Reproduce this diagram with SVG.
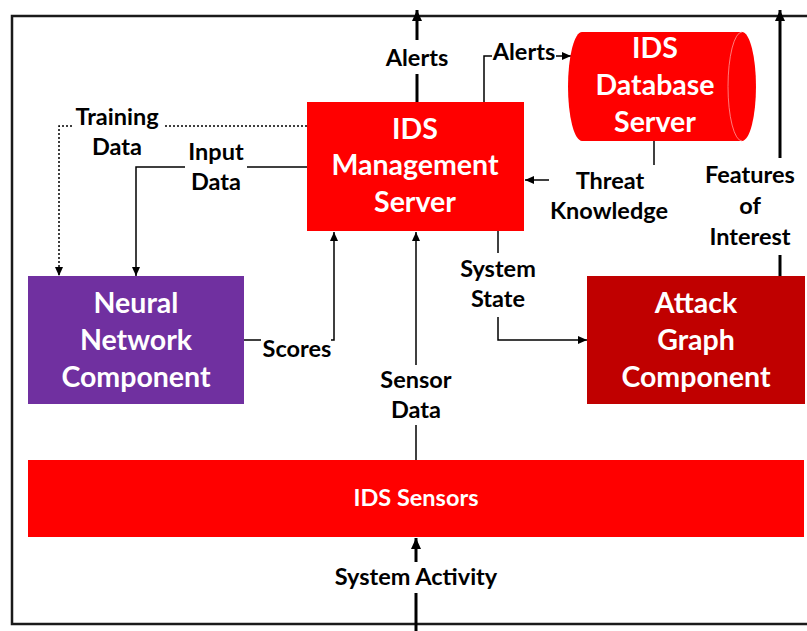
<svg xmlns="http://www.w3.org/2000/svg" width="807" height="631" viewBox="0 0 807 631">
<style>
.frame{fill:none;stroke:#1a1a1a;stroke-width:2.5}
.box{stroke:none}
.bt{font-family:Lato,"Liberation Sans",sans-serif;font-weight:bold;font-size:28.5px;fill:#fff;text-anchor:middle}
.st{font-family:Lato,"Liberation Sans",sans-serif;font-weight:bold;font-size:23.5px;fill:#fff;text-anchor:middle}
.lb{font-family:Lato,"Liberation Sans",sans-serif;font-weight:bold;font-size:23.5px;fill:#000;text-anchor:middle}
.thin{fill:none;stroke:#000;stroke-width:1.5}
.thick{fill:none;stroke:#000;stroke-width:3}
.dot{fill:none;stroke:#000;stroke-width:1.5;stroke-dasharray:2 2}
</style>
<defs>
<marker id="ah" markerUnits="userSpaceOnUse" markerWidth="12" markerHeight="10" refX="11" refY="5" orient="auto">
<path d="M0,0 L11,5 L0,10 Z" fill="#000"/>
</marker>
<marker id="ahs" markerUnits="userSpaceOnUse" markerWidth="10" markerHeight="8" refX="9" refY="4" orient="auto">
<path d="M0,0 L9,4 L0,8 Z" fill="#000"/>
</marker>
</defs>
<rect width="807" height="631" fill="#fff"/>
<rect class="frame" x="12" y="16" width="810" height="608"/>

<g id="connectors">
<path class="thick" d="M417,102 V74"/>
<path class="thick" d="M417,40 V10" marker-end="url(#ah)"/>
<path class="thick" d="M780,276 V255"/>
<path class="thick" d="M780,158 V10" marker-end="url(#ah)"/>
<path class="thick" d="M416,631 V593"/>
<path class="thick" d="M416,562 V538" marker-end="url(#ah)"/>
<path class="thin" d="M416,460 V425"/>
<path class="thin" d="M416,365 V232" marker-end="url(#ahs)"/>
<path class="thin" d="M244,340 H261"/>
<path class="thin" d="M331,340 H334 V232" marker-end="url(#ahs)"/>
<path class="thin" d="M498,231 V253"/>
<path class="thin" d="M498,317 V340 H587" marker-end="url(#ahs)"/>
<path class="thin" d="M654,141 V165"/>
<path class="thin" d="M549,180 H525" marker-end="url(#ahs)"/>
<path class="thin" d="M484,102 V56 H492"/>
<path class="thin" d="M556,56 H571" marker-end="url(#ahs)"/>
<path class="dot" d="M307,126 H163"/>
<path class="dot" d="M72,126 H59 V276" marker-end="url(#ahs)"/>
<path class="thin" d="M307,167 H247"/>
<path class="thin" d="M185,167 H136 V276" marker-end="url(#ahs)"/>
</g>

<g id="labels">
<text class="lb" x="417" y="66">Alerts</text>
<text class="lb" x="524" y="60">Alerts</text>
<text class="lb" x="117" y="125">Training</text>
<text class="lb" x="117" y="155">Data</text>
<text class="lb" x="216" y="160">Input</text>
<text class="lb" x="216" y="190">Data</text>
<text class="lb" x="610" y="189">Threat</text>
<text class="lb" x="609" y="219">Knowledge</text>
<text class="lb" x="750" y="183">Features</text>
<text class="lb" x="750" y="214">of</text>
<text class="lb" x="750" y="245">Interest</text>
<text class="lb" x="498" y="277">System</text>
<text class="lb" x="498" y="307">State</text>
<text class="lb" x="297" y="357">Scores</text>
<text class="lb" x="416" y="388">Sensor</text>
<text class="lb" x="416" y="418">Data</text>
<text class="lb" x="416" y="585">System Activity</text>
</g>

<g id="mgmt">
<rect class="box" x="307" y="102" width="217" height="129" fill="#ff0000"/>
<text class="bt" x="415" y="139">IDS</text>
<text class="bt" x="415" y="175">Management</text>
<text class="bt" x="415" y="212">Server</text>
</g>

<g id="db">
<path d="M582,32 H742 A14,54.5 0 0 1 742,141 H582 A14,54.5 0 0 1 582,32 Z" fill="#ff0000"/>
<path d="M742,32 A14,54.5 0 0 0 742,141" fill="none" stroke="#ff9999" stroke-width="0.8"/>
<text class="bt" x="655" y="58">IDS</text>
<text class="bt" x="655" y="95">Database</text>
<text class="bt" x="655" y="132">Server</text>
</g>

<g id="neural">
<rect class="box" x="28" y="276" width="216" height="128" fill="#7030a0"/>
<text class="bt" x="136" y="313">Neural</text>
<text class="bt" x="136" y="350">Network</text>
<text class="bt" x="136" y="387">Component</text>
</g>

<g id="attack">
<rect class="box" x="587" y="276" width="218" height="128" fill="#c00000"/>
<text class="bt" x="696" y="313">Attack</text>
<text class="bt" x="696" y="350">Graph</text>
<text class="bt" x="696" y="387">Component</text>
</g>

<g id="sensors">
<rect class="box" x="28" y="460" width="776" height="77" fill="#ff0000"/>
<text class="st" x="416" y="506">IDS Sensors</text>
</g>
</svg>
